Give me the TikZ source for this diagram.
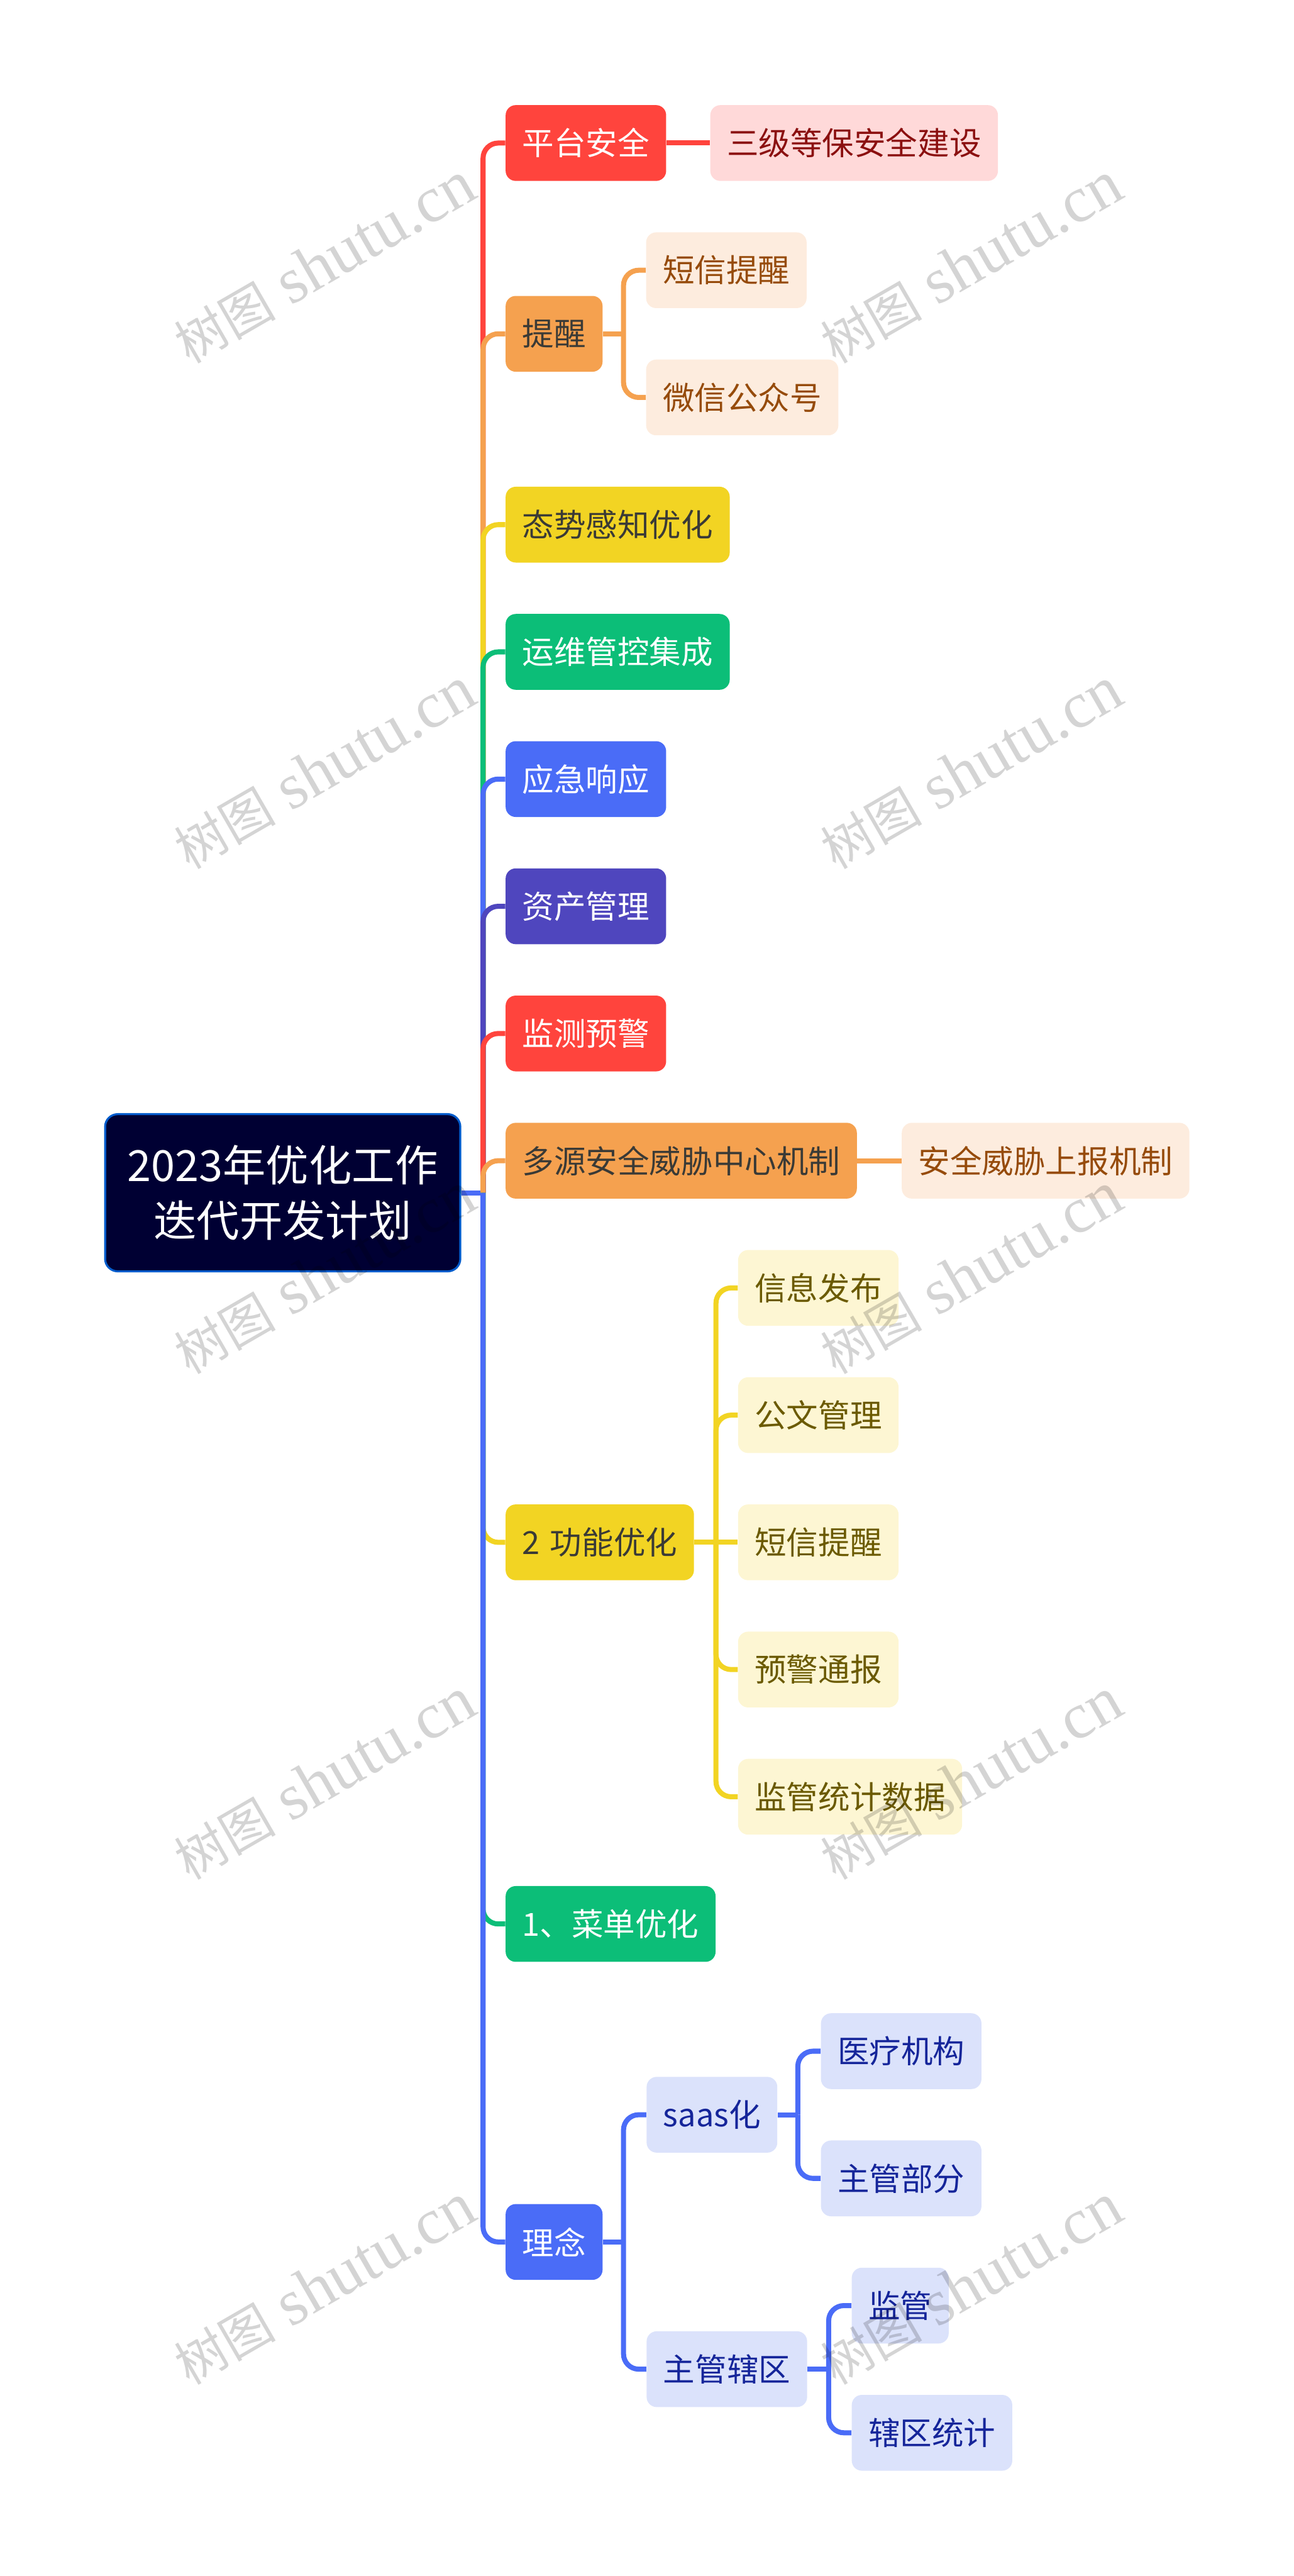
\documentclass[tikz,border=0pt]{standalone}
\usepackage{fontspec}
\setmainfont{Noto Sans CJK SC}
\newfontfamily\markfont{Liberation Serif}
\definecolor{xred}{HTML}{FF443D}
\definecolor{xorange}{HTML}{F5A14F}
\definecolor{xyellow}{HTML}{F2D423}
\definecolor{xgreen}{HTML}{0CBE78}
\definecolor{xblue}{HTML}{4A6CF7}
\definecolor{xindigo}{HTML}{4F46BE}
\definecolor{xdark}{HTML}{3A3A36}
\tikzset{
  topic/.style={rounded corners=.2cm, anchor=west, minimum height=1.5cm, inner xsep=.33cm, inner ysep=0pt, font=\fontsize{17.9}{20}\selectfont},
  redtopic/.style={topic, fill=xred, text=white},
  orangetopic/.style={topic, fill=xorange, text=xdark},
  yellowtopic/.style={topic, fill=xyellow, text=xdark},
  greentopic/.style={topic, fill=xgreen, text=white},
  bluetopic/.style={topic, fill=xblue, text=white},
  indigotopic/.style={topic, fill=xindigo, text=white},
  redleaf/.style={topic, fill={rgb,255:red,255;green,217;blue,217}, text={rgb,255:red,139;green,16;blue,16}},
  orangeleaf/.style={topic, fill={rgb,255:red,253;green,236;blue,222}, text={rgb,255:red,150;green,75;blue,11}},
  yellowleaf/.style={topic, fill={rgb,255:red,253;green,246;blue,211}, text={rgb,255:red,107;green,90;blue,0}},
  blueleaf/.style={topic, fill={rgb,255:red,219;green,226;blue,251}, text={rgb,255:red,21;green,37;blue,154}},
  link/.style={line width=.1cm},
  elbow/.style={link, rounded corners=.3cm},
  stamp/.style={rotate=30, opacity=.17, text=black},
  stamptext/.style={stamp, font=\fontsize{28.6}{34}\selectfont}
}
\newcommand{\stamptxt}{树图\hspace{.3em}{\markfont\fontsize{36.6}{36}\selectfont shutu.cn}}
\begin{document}
\begin{tikzpicture}
  \useasboundingbox (0,0) rectangle (25.6,-50.97);
  % root
  \node [draw=blue!55!cyan!80!black, line width=.04cm, fill=blue!20!black, rounded corners=.25cm, minimum width=7.03cm, minimum height=3.11cm, text=white, align=center, font=\fontsize{24.2}{31}\selectfont] (root) at (5.595,-23.6) {2023年优化工作\\迭代开发计划};
  \coordinate (rootjoin) at (9.56,-23.6);
  % first level
  \node [redtopic] (platform) at (10,-2.83) {平台安全};
  \node [orangetopic] (remind) at (10,-6.605) {提醒};
  \node [yellowtopic] (situation) at (10,-10.381) {态势感知优化};
  \node [greentopic] (devops) at (10,-12.898) {运维管控集成};
  \node [bluetopic] (response) at (10,-15.415) {应急响应};
  \node [indigotopic] (assets) at (10,-17.932) {资产管理};
  \node [redtopic] (monitor) at (10,-20.449) {监测预警};
  \node [orangetopic] (threat) at (10,-22.966) {多源安全威胁中心机制};
  \node [yellowtopic] (feature) at (10,-30.517) {2\hspace{.32em}功能优化};
  \node [greentopic] (menu) at (10,-38.068) {1、菜单优化};
  \node [bluetopic] (idea) at (10,-44.36) {理念};
  % leaves
  \node [redleaf] (grade) at (14.05,-2.83) {三级等保安全建设};
  \node [orangeleaf] (sms) at (12.78,-5.347) {短信提醒};
  \node [orangeleaf] (wechat) at (12.78,-7.864) {微信公众号};
  \node [orangeleaf] (report) at (17.84,-22.966) {安全威胁上报机制};
  \node [yellowleaf] (publish) at (14.6,-25.483) {信息发布};
  \node [yellowleaf] (docs) at (14.6,-28) {公文管理};
  \node [yellowleaf] (notice) at (14.6,-30.517) {短信提醒};
  \node [yellowleaf] (alert) at (14.6,-33.034) {预警通报};
  \node [yellowleaf] (stats) at (14.6,-35.551) {监管统计数据};
  \node [blueleaf] (saas) at (12.79,-41.843) {saas化};
  \node [blueleaf] (district) at (12.79,-46.877) {主管辖区};
  \node [blueleaf] (medical) at (16.24,-40.585) {医疗机构};
  \node [blueleaf] (dept) at (16.24,-43.102) {主管部分};
  \node [blueleaf] (super) at (16.85,-45.619) {监管};
  \node [blueleaf] (area) at (16.85,-48.136) {辖区统计};
  % bus points
  \coordinate (remindbus) at (12.34,-6.605);
  \coordinate (featurebus) at (14.17,-30.517);
  \coordinate (ideabus) at (12.34,-44.36);
  \coordinate (saasbus) at (15.79,-41.843);
  \coordinate (districtbus) at (16.4,-46.877);
  % spine, top to bottom so that each one covers the last
  \draw [link, xblue] (root.east) -- (rootjoin);
  \draw [elbow, xred] (rootjoin) |- (platform.west);
  \draw [elbow, xorange] (rootjoin) |- (remind.west);
  \draw [elbow, xyellow] (rootjoin) |- (situation.west);
  \draw [elbow, xgreen] (rootjoin) |- (devops.west);
  \draw [elbow, xblue] (rootjoin) |- (response.west);
  \draw [elbow, xindigo] (rootjoin) |- (assets.west);
  \draw [elbow, xred] (rootjoin) |- (monitor.west);
  \draw [elbow, xorange] (rootjoin) |- (threat.west);
  \draw [elbow, xyellow] (rootjoin) |- (feature.west);
  \draw [elbow, xgreen] (rootjoin) |- (menu.west);
  \draw [elbow, xblue] (rootjoin) |- (idea.west);
  % branches
  \draw [link, xred] (platform.east) -- (grade.west);
  \draw [link, xorange] (threat.east) -- (report.west);
  \draw [link, xorange] (remind.east) -- (remindbus);
  \draw [elbow, xorange] (remindbus) |- (sms.west);
  \draw [elbow, xorange] (remindbus) |- (wechat.west);
  \draw [link, xyellow] (feature.east) -- (notice.west);
  \draw [elbow, xyellow] (featurebus) |- (publish.west);
  \draw [elbow, xyellow] (featurebus) |- (docs.west);
  \draw [elbow, xyellow] (featurebus) |- (alert.west);
  \draw [elbow, xyellow] (featurebus) |- (stats.west);
  \draw [link, xblue] (idea.east) -- (ideabus);
  \draw [elbow, xblue] (ideabus) |- (saas.west);
  \draw [elbow, xblue] (ideabus) |- (district.west);
  \draw [link, xblue] (saas.east) -- (saasbus);
  \draw [elbow, xblue] (saasbus) |- (medical.west);
  \draw [elbow, xblue] (saasbus) |- (dept.west);
  \draw [link, xblue] (district.east) -- (districtbus);
  \draw [elbow, xblue] (districtbus) |- (super.west);
  \draw [elbow, xblue] (districtbus) |- (area.west);
  % watermark
  \node [stamptext] (stamp1) at (6.42,-5.2) {\stamptxt};
  \node [stamptext] (stamp2) at (19.22,-5.2) {\stamptxt};
  \node [stamptext] (stamp3) at (6.42,-15.2) {\stamptxt};
  \node [stamptext] (stamp4) at (19.22,-15.2) {\stamptxt};
  \node [stamptext] (stamp5) at (6.42,-25.2) {\stamptxt};
  \node [stamptext] (stamp6) at (19.22,-25.2) {\stamptxt};
  \node [stamptext] (stamp7) at (6.42,-35.2) {\stamptxt};
  \node [stamptext] (stamp8) at (19.22,-35.2) {\stamptxt};
  \node [stamptext] (stamp9) at (6.42,-45.2) {\stamptxt};
  \node [stamptext] (stamp10) at (19.22,-45.2) {\stamptxt};
\end{tikzpicture}
\end{document}
